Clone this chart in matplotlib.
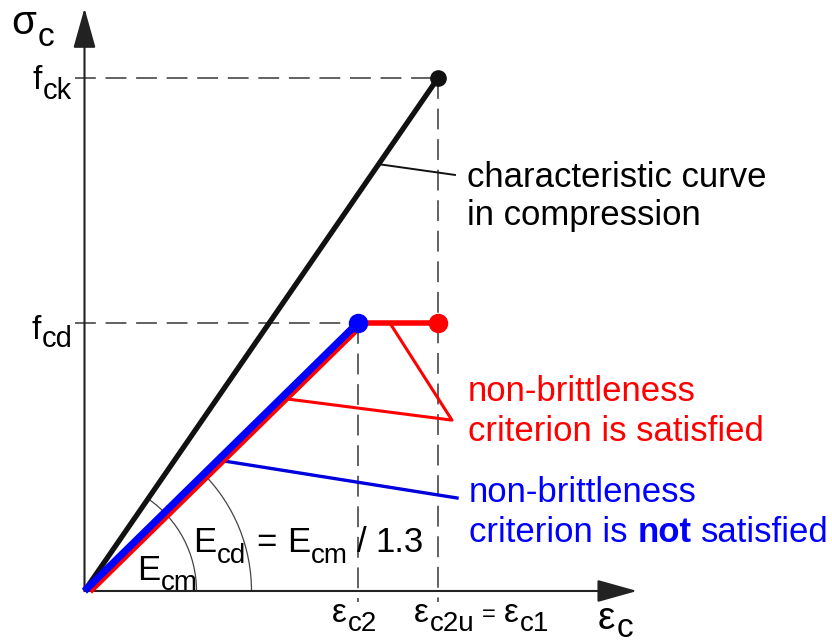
import matplotlib
matplotlib.use('Agg')
import matplotlib.pyplot as plt
from matplotlib import transforms
from matplotlib.patches import Arc
import numpy as np

plt.rcParams['font.family'] = ['Liberation Sans', 'DejaVu Sans']
plt.rcParams['lines.scale_dashes'] = False

# stresses relative to f_ck, strains in per mille (schematic)
f_ck = 1.0
f_cd = 0.522
eps_c2 = 2.0
eps_c1 = 2.59          # = eps_c2u

# characteristic curve (black), design curves (red: ok, blue: not ok)
char_eps = [0, eps_c1]
char_sig = [0, f_ck]
red_eps = [0, eps_c2, eps_c1]
red_sig = [0, f_cd, f_cd]
blue_eps = [0, eps_c2]
blue_sig = [0, f_cd]

fig = plt.figure(figsize=(8.32, 6.43), dpi=100)
ax = fig.add_axes([0, 0, 1, 1])
ax.set_xlim(-0.619, 5.476)
ax.set_ylim(-0.1014, 1.152)
ax.axis('off')

# pixels per data unit, used for arcs
o = ax.transData.transform((0, 0))
sx = ax.transData.transform((1, 0))[0] - o[0]
sy = ax.transData.transform((0, 1))[1] - o[1]

# dashed guide lines
dash = dict(color='#555555', lw=1.3, dashes=(15, 7), zorder=1)
ax.plot([-0.07, eps_c1], [f_ck, f_ck], **dash)
ax.plot([eps_c1, eps_c1], [f_ck, -0.021], **dash)
ax.plot([-0.07, eps_c2], [f_cd, f_cd], **dash)
ax.plot([eps_c2, eps_c2], [f_cd, -0.021], **dash)

# axes with arrow heads
axis_kw = dict(arrowstyle='-|>,head_length=25,head_width=7', mutation_scale=1,
               color='#222222', lw=1.5, shrinkA=0, shrinkB=0)
x_tip, y_tip = 4.048, 1.136
ax.annotate('', xy=(x_tip, 0), xytext=(0, 0), arrowprops=axis_kw)
ax.annotate('', xy=(0, y_tip), xytext=(0, 0), arrowprops=axis_kw)

# angle arcs for E_cm and E_cd
for r_px, e, s in [(112, eps_c1, f_ck), (167, eps_c2, f_cd)]:
    theta = np.degrees(np.arctan2(s, e))
    ax.add_patch(Arc((0, 0), 2 * r_px / sx, 2 * r_px / sy, theta1=0, theta2=theta,
                     color='#444444', lw=0.9, zorder=1))

# leader lines
t = 0.832
ax.plot([t * char_eps[1], 2.714], [t * char_sig[1], 0.811], color='#111111', lw=1.4, zorder=2)
t = 0.72
ax.plot([t * eps_c2, 2.692, 2.238], [t * f_cd, 0.333, f_cd], color='red', lw=2.2, zorder=2)
t = 0.489
ax.plot([t * eps_c2, 2.729], [t * f_cd, 0.1813], color='#0000dd', lw=2.4, zorder=2)

# curves
ax.plot(char_eps, char_sig, color='#111111', lw=3.8, solid_capstyle='butt', zorder=3)
red_shift = transforms.offset_copy(ax.transData, fig=fig, x=5, y=0, units='dots')
ax.plot(red_eps[:2], red_sig[:2], color='red', lw=5.2, transform=red_shift,
        solid_capstyle='butt', zorder=3)
ax.plot(red_eps[1:], red_sig[1:], color='red', lw=4, zorder=3)
ax.plot(blue_eps, blue_sig, color='blue', lw=5.2, solid_capstyle='butt', zorder=4)
ax.plot(eps_c1, f_ck, 'o', color='#111111', ms=11, zorder=5)
ax.plot(eps_c1, f_cd, 'o', color='red', ms=13, zorder=5)
ax.plot(eps_c2, f_cd, 'o', color='blue', ms=13, zorder=6)

renderer = fig.canvas.get_renderer()


def rich(xy, parts, dx, dy, color='black'):
    # text pieces chained left to right; rise < 0 gives a subscript
    for part in parts:
        text, size, rise, gap = part[:4]
        weight = part[4] if len(part) > 4 else 'normal'
        dx += gap
        tx = ax.annotate(text, xy, xytext=(dx, dy + rise), textcoords='offset pixels',
                         fontsize=size, fontweight=weight, color=color,
                         ha='left', va='baseline', zorder=7)
        dx += tx.get_window_extent(renderer).width


rich((0, y_tip), [('σ', 29, 0, 0), ('c', 24, -12, 1)], -73, -26)
rich((0, f_ck), [('f', 24, 0, 0), ('ck', 21, -10, 1)], -52, -11)
rich((0, f_cd), [('f', 24, 0, 0), ('cd', 21, -8, 1)], -53, -16)
rich((eps_c2, 0), [('ε', 24, 0, 0), ('c2', 20, -9, 1)], -26, -31)
rich((eps_c1, 0), [('ε', 24, 0, 0), ('c2u', 20, -9, 1), ('=', 17, 1, 8),
                   ('ε', 24, 0, 8), ('c1', 20, -9, 1)], -24.5, -31)
rich((x_tip, 0), [('ε', 28, 0, 0), ('c', 24, -8, 1)], -39, -38)
rich((0, 0), [('E', 25, 0, 0), ('cm', 20, -10, 1)], 52.5, 11)
rich((0, 0), [('E', 25, 0, 0), ('cd', 20, -11, 1), ('=', 25, 0, 10), ('E', 25, 0, 10),
              ('cm', 20, -11, 1), ('/', 25, 0, 9), ('1.3', 25, 0, 9)], 108.5, 39)

ax.text(2.802, 0.7875, 'characteristic curve', fontsize=25, color='black', va='baseline')
ax.text(2.802, 0.7135, 'in compression', fontsize=25, color='black', va='baseline')
ax.text(2.809, 0.3704, 'non-brittleness', fontsize=25, color='red', va='baseline')
ax.text(2.809, 0.2924, 'criterion is satisfied', fontsize=25, color='red', va='baseline')
ax.text(2.817, 0.1735, 'non-brittleness', fontsize=25, color='blue', va='baseline')
rich((2.817, 0.0955), [('criterion is', 25, 0, 0), ('not', 25, 0, 9.6, 'bold'),
                       ('satisfied', 25, 0, 9.6)], 0, 0, color='blue')

fig.savefig('out.png', dpi=100)
